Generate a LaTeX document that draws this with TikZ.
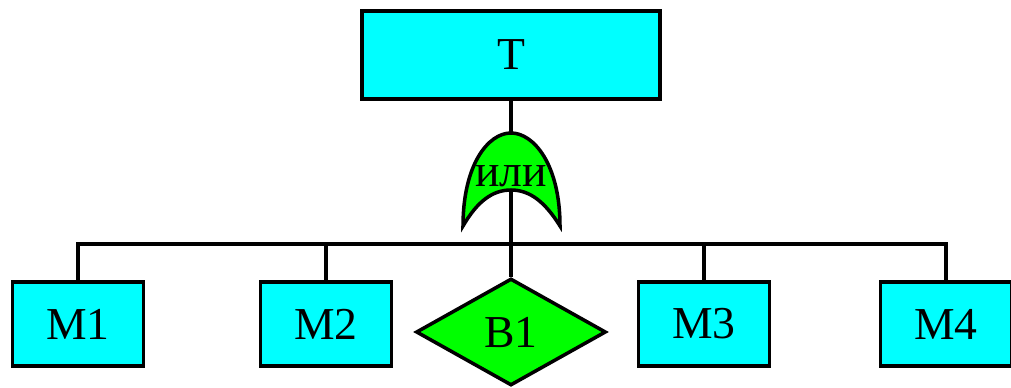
\documentclass[tikz,border=0pt]{standalone}
\usepackage{fontspec}
\setmainfont{Liberation Serif}
\usetikzlibrary{shapes.geometric}
\definecolor{evcyan}{RGB}{0,255,255}
\definecolor{evgreen}{RGB}{0,255,0}

\begin{document}
\begin{tikzpicture}[x=0.02cm,y=-0.02cm,
    event/.style={draw=black,fill=evcyan,line width=2pt,minimum width=2.62cm,
      minimum height=1.68cm,inner sep=0pt,font=\fontsize{26}{30}\selectfont},
    topevent/.style={event,minimum width=5.96cm,minimum height=1.76cm},
    undev/.style={draw=black,fill=evgreen,line width=2pt,diamond,inner sep=0pt,
      minimum width=3.8cm,minimum height=2.14cm,font=\fontsize{26}{30}\selectfont},
    gate/.style={draw=black,fill=evgreen,line width=2pt},
    wire/.style={line width=2pt}
  ]
    \useasboundingbox (0,0) rectangle (1011,388);
    % top event and its OR gate
    \node[topevent] (T) at (511,55) {T};
    \coordinate (gtop) at (511,133);
    \coordinate (gbot) at (511,190);
    \draw[wire] (T.south) -- (gtop);
    \filldraw[gate] (463,226) .. controls (463,165) and (488,133) .. (gtop)
      .. controls (534,133) and (560,165) .. (560,226)
      .. controls (545,202) and (530,190) .. (gbot)
      .. controls (492,190) and (477,202) .. cycle;
    \node[anchor=base,inner sep=0pt,font=\fontsize{26}{30}\selectfont] (orlbl) at (511,187) {или};
    % lower events
    \node[event] (M1) at (78,324) {M1};
    \node[event] (M2) at (326,324) {M2};
    \node[undev] (B1) at (511,332) {B1};
    \node[event] (M3) at (704,324) {M3};
    \node[event] (M4) at (946,324) {M4};
    \coordinate (bus) at (511,244);
    \draw[wire] (gbot) -- (bus) -- (B1.north);
    \draw[wire] (M1.north) |- (bus) -| (M4.north);
    \draw[wire] (M2.north) -- (M2.north |- bus);
    \draw[wire] (M3.north) -- (M3.north |- bus);
\end{tikzpicture}
\end{document}
